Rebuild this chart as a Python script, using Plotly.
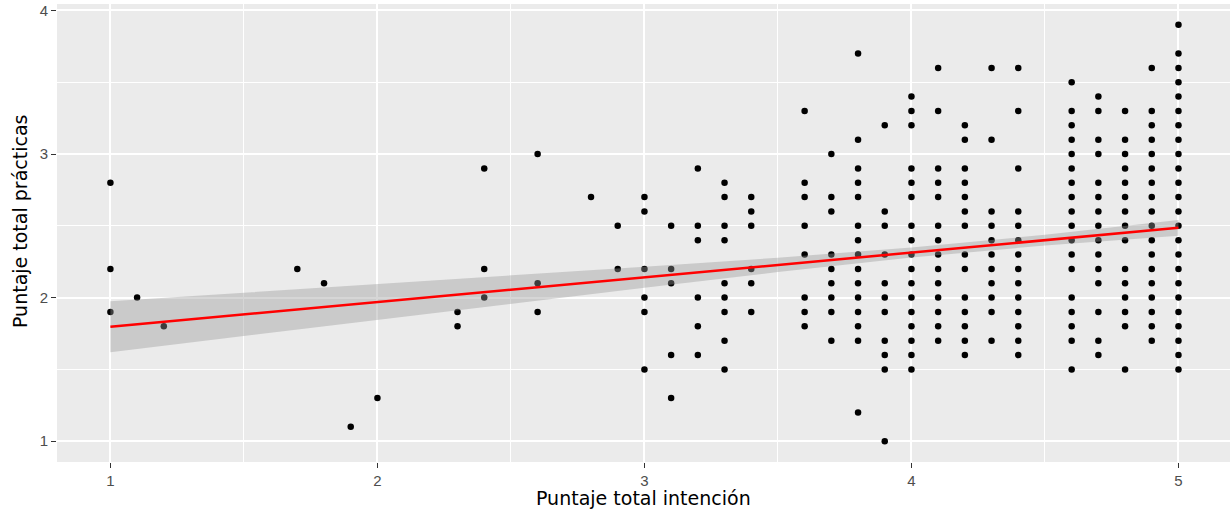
import plotly.graph_objects as go

# ---- data: Puntaje total intención (x) vs Puntaje total prácticas (y) ----
x_levels = [1.0, 1.1, 1.2, 1.7, 1.8, 1.9, 2.0, 2.3, 2.4, 2.6, 2.8, 2.9, 3.0, 3.1,
            3.2, 3.3, 3.4, 3.6, 3.7, 3.8, 3.9, 4.0, 4.1, 4.2, 4.3, 4.4, 4.6,
            4.7, 4.8, 4.9, 5.0]

y_at_1_0 = [2.8, 2.2, 1.9]
y_at_1_1 = [2.0]
y_at_1_2 = [1.8]
y_at_1_7 = [2.2]
y_at_1_8 = [2.1]
y_at_1_9 = [1.1]
y_at_2_0 = [1.3]
y_at_2_3 = [1.9, 1.8]
y_at_2_4 = [2.9, 2.2, 2.0]
y_at_2_6 = [3.0, 2.1, 1.9]
y_at_2_8 = [2.7]
y_at_2_9 = [2.5, 2.2]
y_at_3_0 = [2.7, 2.6, 2.2, 2.0, 1.9, 1.5]
y_at_3_1 = [2.5, 2.2, 2.1, 1.6, 1.3]
y_at_3_2 = [2.9, 2.5, 2.4, 2.0, 1.8, 1.6]
y_at_3_3 = [2.8, 2.7, 2.5, 2.4, 2.1, 2.0, 1.9, 1.7, 1.5]
y_at_3_4 = [2.7, 2.6, 2.5, 2.2, 2.1, 1.9]
y_at_3_6 = [3.3, 2.8, 2.7, 2.5, 2.3, 2.0, 1.9, 1.8]
y_at_3_7 = [3.0, 2.7, 2.6, 2.3, 2.2, 2.1, 2.0, 1.9, 1.7]
y_at_3_8 = [3.7, 3.1, 2.9, 2.8, 2.7, 2.5, 2.4, 2.3, 2.2, 2.1, 2.0, 1.9, 1.8, 1.7, 1.2]
y_at_3_9 = [3.2, 2.6, 2.5, 2.3, 2.1, 2.0, 1.9, 1.7, 1.6, 1.5, 1.0]
y_at_4_0 = [3.4, 3.3, 3.2, 2.9, 2.8, 2.7, 2.5, 2.4, 2.3, 2.2, 2.1, 2.0, 1.9, 1.8, 1.7, 1.6, 1.5]
y_at_4_1 = [3.6, 3.3, 2.9, 2.8, 2.7, 2.5, 2.4, 2.3, 2.2, 2.1, 2.0, 1.9, 1.8, 1.7]
y_at_4_2 = [3.2, 3.1, 2.9, 2.8, 2.7, 2.6, 2.5, 2.3, 2.2, 2.0, 1.9, 1.8, 1.7, 1.6]
y_at_4_3 = [3.6, 3.1, 2.6, 2.5, 2.4, 2.3, 2.2, 2.1, 2.0, 1.9, 1.7]
y_at_4_4 = [3.6, 3.3, 2.9, 2.6, 2.5, 2.4, 2.3, 2.2, 2.1, 2.0, 1.9, 1.8, 1.7, 1.6]
y_at_4_6 = [3.5, 3.3, 3.2, 3.1, 3.0, 2.9, 2.8, 2.7, 2.6, 2.5, 2.4, 2.3, 2.2, 2.0, 1.9, 1.8, 1.7, 1.5]
y_at_4_7 = [3.4, 3.3, 3.1, 3.0, 2.8, 2.7, 2.6, 2.5, 2.4, 2.3, 2.2, 2.1, 1.9, 1.7, 1.6]
y_at_4_8 = [3.3, 3.1, 3.0, 2.9, 2.8, 2.7, 2.6, 2.5, 2.4, 2.2, 2.1, 2.0, 1.9, 1.8, 1.5]
y_at_4_9 = [3.6, 3.3, 3.2, 3.1, 3.0, 2.9, 2.8, 2.7, 2.6, 2.5, 2.4, 2.3, 2.2, 2.1, 2.0, 1.9, 1.8, 1.7]
y_at_5_0 = [3.9, 3.7, 3.6, 3.5, 3.4, 3.3, 3.2, 3.1, 3.0, 2.9, 2.8, 2.7, 2.6, 2.5, 2.4, 2.3,
            2.2, 2.1, 2.0, 1.9, 1.8, 1.7, 1.6, 1.5]

y_columns = [y_at_1_0, y_at_1_1, y_at_1_2, y_at_1_7, y_at_1_8, y_at_1_9, y_at_2_0,
             y_at_2_3, y_at_2_4, y_at_2_6, y_at_2_8, y_at_2_9, y_at_3_0, y_at_3_1,
             y_at_3_2, y_at_3_3, y_at_3_4, y_at_3_6, y_at_3_7, y_at_3_8, y_at_3_9,
             y_at_4_0, y_at_4_1, y_at_4_2, y_at_4_3, y_at_4_4, y_at_4_6, y_at_4_7,
             y_at_4_8, y_at_4_9, y_at_5_0]

# linear fit (geom_smooth, method = lm) with its confidence band
fit_x = [1.0, 1.5, 2.0, 2.5, 3.0, 3.5, 4.0, 4.5, 5.0]
fit_y = [1.797, 1.883, 1.969, 2.055, 2.142, 2.228, 2.314, 2.400, 2.486]
fit_upper = [1.974, 2.033, 2.093, 2.153, 2.215, 2.278, 2.349, 2.437, 2.541]
fit_lower = [1.620, 1.733, 1.845, 1.957, 2.069, 2.178, 2.279, 2.363, 2.431]

x_ticks = [1, 2, 3, 4, 5]
y_ticks = [1, 2, 3, 4]
x_title = "Puntaje total intención"
y_title = "Puntaje total prácticas"

# ---- build ----
pts_x, pts_y = [], []
for xv, col in zip(x_levels, y_columns):
    for yv in col:
        pts_x.append(xv)
        pts_y.append(yv)

fig = go.Figure()
fig.add_trace(go.Scatter(x=pts_x, y=pts_y, mode="markers",
                         marker=dict(color="black", size=6.5, line=dict(width=0)),
                         showlegend=False, hoverinfo="x+y"))
fig.add_trace(go.Scatter(x=fit_x + fit_x[::-1], y=fit_upper + fit_lower[::-1],
                         fill="toself", fillcolor="rgba(153,153,153,0.4)",
                         mode="lines", line=dict(width=0), showlegend=False,
                         hoverinfo="skip"))
fig.add_trace(go.Scatter(x=fit_x, y=fit_y, mode="lines",
                         line=dict(color="#FF0000", width=2.5), showlegend=False))

tick_font = dict(family="Liberation Sans, Arial, sans-serif", size=15, color="#4D4D4D")
axis_common = dict(showgrid=True, gridcolor="white", gridwidth=1.6, zeroline=False,
                   ticks="outside", ticklen=5, tickwidth=1.1, tickcolor="#333333",
                   tickfont=tick_font, showline=False)

fig.update_layout(
    width=1230, height=513,
    margin=dict(l=57, r=0, t=4, b=51),
    paper_bgcolor="white", plot_bgcolor="#EBEBEB",
    xaxis=dict(range=[0.8, 5.193], tickvals=x_ticks, ticktext=[str(v) for v in x_ticks],
               minor=dict(dtick=0.5, tick0=0.5, showgrid=True, gridcolor="white", gridwidth=0.8,
                          ticks=""),
               **axis_common),
    yaxis=dict(range=[0.855, 4.045], tickvals=y_ticks, ticktext=[str(v) for v in y_ticks],
               minor=dict(dtick=0.5, tick0=0.5, showgrid=True, gridcolor="white", gridwidth=0.8,
                          ticks=""),
               **axis_common),
    annotations=[
        dict(text=x_title, xref="paper", yref="paper", x=0.5, y=-0.079,
             xanchor="center", yanchor="middle", showarrow=False,
             font=dict(family="DejaVu Sans, sans-serif", size=19, color="black")),
        dict(text=y_title, xref="paper", yref="paper", x=-0.032, y=0.525,
             xanchor="center", yanchor="middle", textangle=-90, showarrow=False,
             font=dict(family="DejaVu Sans, sans-serif", size=19, color="black")),
    ],
)

fig.write_html("out.html")
